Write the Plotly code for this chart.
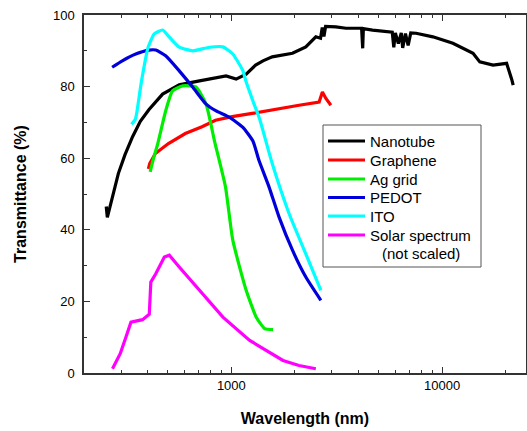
import plotly.graph_objects as go

# ---- data ----
nanotube_x = [255, 258, 262, 270, 291, 313, 340, 370, 407, 472, 566, 706, 847, 944, 1054, 1176, 1304,
              1413, 1563, 1950, 2256, 2517, 2650, 2700, 2750, 2800, 3133, 3499, 4047, 4150, 4200, 4230,
              4677, 5623, 5800, 5900, 6000, 6200, 6400, 6500, 6700, 6900, 7100, 7530, 9040, 11250,
              14020, 15090, 17450, 20230, 20940, 21400, 21730]
nanotube_y = [46.5, 43.5, 45.0, 48.3, 55.7, 61.0, 66.0, 70.3, 73.6, 77.9, 80.5, 81.6, 82.6, 83.0, 82.1, 83.5,
              86.0, 87.2, 88.3, 89.3, 91.1, 93.9, 93.5, 96.5, 94.0, 96.8, 96.7, 96.3, 96.3, 96.3,
              90.7, 96.2, 95.8, 95.3, 95.2, 91.0, 95.0, 92.0, 95.0, 90.8, 94.8, 91.5, 95.0, 94.9, 93.9,
              92.1, 89.3, 86.9, 86.0, 86.5, 84.1, 82.0, 80.4]

graphene_x = [404, 410, 436, 503, 605, 726, 841, 1009, 1256, 1509, 1683, 2095, 2610, 2704, 2810, 2967]
graphene_y = [57.0, 58.5, 61.3, 64.1, 66.9, 68.8, 70.6, 71.6, 72.5, 73.4, 73.9, 74.8, 75.7, 78.5, 76.7, 74.8]

aggrid_x = [412, 430, 447, 488, 526, 588, 679, 759, 832, 938, 1016, 1176, 1313, 1439, 1577]
aggrid_y = [56.2, 60.5, 63.9, 73.2, 78.8, 80.2, 79.9, 75.1, 64.8, 52.0, 37.1, 23.1, 15.6, 12.4, 12.1]

pedot_x = [272, 304, 352, 407, 438, 488, 566, 657, 759, 847, 981, 1135, 1266, 1352, 1509, 1683,
           1950, 2256, 2659]
pedot_y = [85.4, 87.2, 89.1, 90.2, 90.2, 88.6, 84.4, 79.8, 75.1, 73.2, 71.4, 68.6, 64.8, 59.4, 52.0, 43.6,
           34.3, 26.8, 20.3]

ito_x = [336, 350, 355, 375, 403, 431, 472, 508, 566, 657, 787, 912, 1016, 1135, 1169, 1266, 1361,
         1563, 1880, 2256, 2659]
ito_y = [69.5, 70.8, 72.3, 81.6, 91.0, 94.7, 95.8, 93.8, 91.0, 90.0, 91.0, 91.1, 89.1, 84.4, 81.8, 76.0,
         71.0, 58.5, 44.5, 33.3, 23.1]

solar_x = [273, 297, 316, 334, 379, 408, 415, 438, 481, 508, 566, 706, 912, 1222, 1758, 2095, 2517]
solar_y = [1.2, 5.4, 10.0, 14.2, 14.9, 16.4, 25.4, 27.7, 32.4, 32.9, 29.6, 23.1, 15.6, 9.1, 3.5, 2.1, 1.2]

series_names = ["Nanotube", "Graphene", "Ag grid", "PEDOT", "ITO", "Solar spectrum"]
solar_note = "(not scaled)"
series_colors = ["#000000", "#ff0000", "#00ee00", "#0000dd", "#00ffff", "#ff00ff"]
series_shapes = ["linear", "linear", "spline", "spline", "spline", "linear"]

x_tickvals = [1000, 10000]
x_ticktext = ["1000", "10000"]
x_minor = [300, 400, 500, 600, 700, 800, 900, 2000, 3000, 4000, 5000, 6000, 7000, 8000, 9000, 20000]

series = [(nanotube_x, nanotube_y), (graphene_x, graphene_y), (aggrid_x, aggrid_y),
          (pedot_x, pedot_y), (ito_x, ito_y), (solar_x, solar_y)]

W, H = 527, 431
ML, MR, MT, MB = 84, 1, 15, 58
PW, PH = W - ML - MR, H - MT - MB


def px(x):
    return (x - ML) / PW


def py(y):
    return (H - MB - y) / PH


fig = go.Figure()
for (xs, ys), name, col, shp in zip(series, series_names, series_colors, series_shapes):
    fig.add_trace(go.Scatter(x=xs, y=ys, mode="lines", name=name,
                             line=dict(color=col, width=3.2, shape=shp, smoothing=0.5),
                             showlegend=False))

FONT = "Arial, Liberation Sans, sans-serif"

# manual legend (box, line samples, labels)
shapes = [dict(type="rect", xref="paper", yref="paper",
               x0=px(323), x1=px(481), y0=py(267), y1=py(125),
               line=dict(color="#555555", width=1), fillcolor="white", layer="above")]
annotations = []
row_y = [141, 160, 179, 197.5, 216, 235]
for name, col, ry in zip(series_names, series_colors, row_y):
    shapes.append(dict(type="line", xref="paper", yref="paper",
                       x0=px(328), x1=px(365), y0=py(ry), y1=py(ry),
                       line=dict(color=col, width=3.2), layer="above"))
    annotations.append(dict(xref="paper", yref="paper", x=px(368), y=py(ry),
                            xanchor="left", yanchor="middle", text=name, showarrow=False,
                            font=dict(size=15, family=FONT, color="black")))
annotations.append(dict(xref="paper", yref="paper", x=px(380), y=py(254),
                        xanchor="left", yanchor="middle", text=solar_note, showarrow=False,
                        font=dict(size=15, family=FONT, color="black")))

fig.update_layout(
    width=W, height=H,
    margin=dict(l=ML, r=MR, t=MT, b=MB),
    paper_bgcolor="white", plot_bgcolor="white",
    font=dict(family=FONT, size=13, color="black"),
    showlegend=False,
    shapes=shapes, annotations=annotations,
)
fig.update_xaxes(
    type="log", range=[2.301, 4.398], automargin=False,
    tickvals=x_tickvals, ticktext=x_ticktext,
    ticks="inside", ticklen=6, tickwidth=1.2, tickcolor="#333",
    minor=dict(tickvals=x_minor, ticks="inside", ticklen=3, tickwidth=1.2, tickcolor="#333"),
    showline=True, linecolor="#333", linewidth=1.5, mirror="ticks",
    showgrid=False, zeroline=False,
    tickfont=dict(size=13),
    title=dict(text="<b>Wavelength (nm)</b>", font=dict(size=16), standoff=20),
)
fig.update_yaxes(
    range=[0, 100], dtick=20, tick0=0, automargin=False,
    ticks="inside", ticklen=6, tickwidth=1.2, tickcolor="#333",
    minor=dict(dtick=10, ticks="inside", ticklen=3, tickwidth=1.2, tickcolor="#333"),
    showline=True, linecolor="#333", linewidth=1.5, mirror=True,
    showgrid=False, zeroline=False,
    tickfont=dict(size=13), ticklabelstandoff=5,
    title=dict(text="<b>Transmittance (%)</b>", font=dict(size=16), standoff=22),
)

fig.write_html("out.html", config={"displayModeBar": False},
               post_script="document.body.style.margin='0';document.body.style.padding='0';")
